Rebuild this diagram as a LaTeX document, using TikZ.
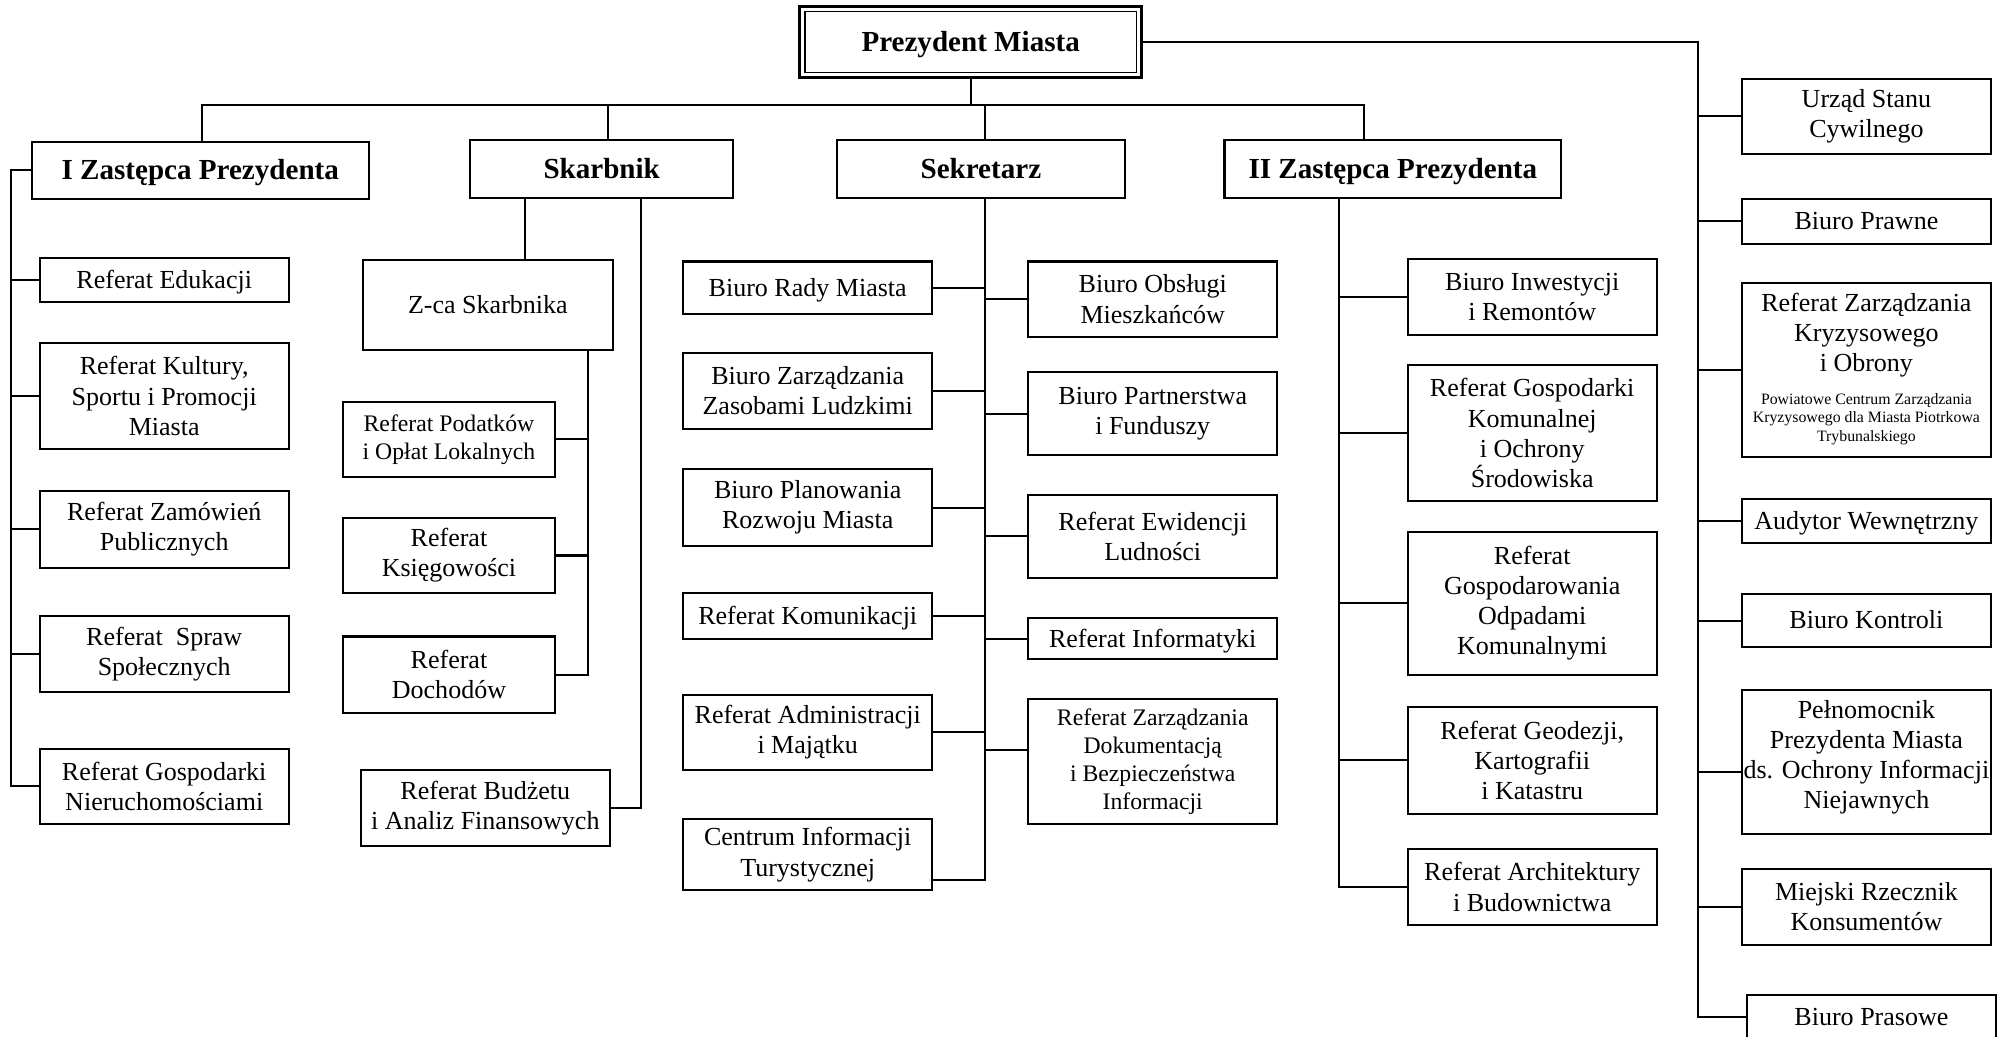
\documentclass[tikz,border=0pt]{standalone}
\usepackage{fontspec}
\setmainfont{Liberation Serif}
\usetikzlibrary{calc}

\newcommand\kryzfont{\fontsize{6.2}{7.2}\selectfont}

\tikzset{
  unit/.style={draw, line width=0.8pt, inner xsep=0.5pt, inner ysep=1pt, align=center,
    minimum width=97.75pt, font=\fontsize{10.2}{11.8}\selectfont},
  single/.style={text height=8.8pt, text depth=2.2pt},
  head/.style={unit, single, text height=9.6pt, text depth=2.4pt, font=\fontsize{11.4}{13}\selectfont\bfseries},
  fine/.style={font=\fontsize{9.3}{11}\selectfont},
  link/.style={line width=0.8pt},
}

\begin{document}
\begin{tikzpicture}[x=0.5pt,y=-0.5pt]
\useasboundingbox (0,0) rectangle (1568,813);

% kierownictwo
\node[head, line width=1.2pt, minimum width=134pt, minimum height=28pt] (pm) at (761,33) {Prezydent Miasta};
\draw[line width=0.6pt] ([shift={(2.6pt,-2.6pt)}]pm.north west) rectangle ([shift={(-2.6pt,2.6pt)}]pm.south east);
\node[head, minimum width=132pt, minimum height=22.5pt] (iz) at (157,133.5) {I Zastępca Prezydenta};
\node[head, minimum width=103.25pt, minimum height=22.5pt] (skarb) at (471.75,132.5) {Skarbnik};
\node[head, minimum width=113pt, minimum height=22.5pt] (sek) at (769,132.5) {Sekretarz};
\node[head, minimum width=132pt, minimum height=22.5pt] (iiz) at (1092,132.5) {II Zastępca Prezydenta};

% I Zastepca
\node[unit, single, minimum height=17.5pt] (edu) at (128.75,219.5) {Referat Edukacji};
\foreach \nm/\yy/\hh/\txt in {
    kult/310.5/41.5/{Referat Kultury,\\Sportu i Promocji\\Miasta},
    zam/415/30/{Referat Zamówień\\Publicznych},
    spr/512.75/29.75/{Referat\ \ Spraw\\Społecznych},
    gn/616.5/29.5/{Referat Gospodarki\\Nieruchomościami}}
  \node[unit, minimum height=\hh pt] (\nm) at (128.75,\yy) {\txt};

% Skarbnik
\node[unit, single, minimum height=35.5pt] (zca) at (382.5,239) {Z-ca Skarbnika};
\node[unit, fine, minimum width=83pt, minimum height=29.5pt] (pod) at (352,344.5) {Referat Podatków\\i Opłat Lokalnych};
\node[unit, minimum width=83pt, minimum height=29.5pt] (ksi) at (352,435.5) {Referat\\Księgowości};
\node[unit, minimum width=83pt, minimum height=30pt] (doch) at (352,529) {Referat\\Dochodów};
\node[unit, minimum height=29.75pt] (bud) at (380.5,633.25) {Referat Budżetu\\i Analiz Finansowych};

% Sekretarz
\node[unit, single, minimum height=20.5pt] (rady) at (633.25,225.5) {Biuro Rady Miasta};
\node[unit, single, minimum height=18pt] (kom) at (633.25,483) {Referat Komunikacji};
\foreach \nm/\yy/\hh/\txt in {
    zas/306.5/29.5/{Biuro Zarządzania\\Zasobami Ludzkimi},
    plan/398/30/{Biuro Planowania\\Rozwoju Miasta},
    adm/574.25/29.75/{Referat Administracji\\i Majątku},
    cit/670/28/{Centrum Informacji\\Turystycznej}}
  \node[unit, minimum height=\hh pt] (\nm) at (633.25,\yy) {\txt};
\foreach \nm/\yy/\hh/\txt in {
    obs/234.5/29.5/{Biuro Obsługi\\Mieszkańców},
    part/324.25/32.75/{Biuro Partnerstwa\\i Funduszy},
    ewi/420.5/32.5/{Referat Ewidencji\\Ludności}}
  \node[unit, minimum height=\hh pt] (\nm) at (903.75,\yy) {\txt};
\node[unit, single, minimum height=16.25pt] (inf) at (903.75,500.75) {Referat Informatyki};
\node[unit, fine, minimum height=49pt] (dok) at (903.75,597) {Referat Zarządzania\\Dokumentacją\\i Bezpieczeństwa\\Informacji};

% II Zastepca
\foreach \nm/\yy/\hh/\txt in {
    inw/232.75/29.75/{Biuro Inwestycji\\i Remontów},
    gk/339.5/53.5/{Referat Gospodarki\\Komunalnej\\i Ochrony\\Środowiska},
    odp/473/56/{Referat\\Gospodarowania\\Odpadami\\Komunalnymi},
    geo/596.15/41.65/{Referat Geodezji,\\Kartografii\\i Katastru},
    arch/695.35/29.65/{Referat Architektury\\i Budownictwa}}
  \node[unit, minimum height=\hh pt] (\nm) at (1201.25,\yy) {\txt};

% podlegle Prezydentowi
\foreach \nm/\yy/\hh/\txt in {
    praw/173.55/17.75/{Biuro Prawne},
    aud/408.5/17.5/{Audytor Wewnętrzny},
    kon/486.5/20.5/{Biuro Kontroli}}
  \node[unit, single, minimum height=\hh pt] (\nm) at (1463.25,\yy) {\txt};
\node[unit, minimum height=29.55pt] (usc) at (1463.25,91.25) {Urząd Stanu\\Cywilnego};
\node[unit, minimum height=29.85pt] (rzecz) at (1463.25,710.85) {Miejski Rzecznik\\Konsumentów};
\node[unit, minimum height=56.5pt] (peln) at (1463.25,597.5) {Pełnomocnik\\Prezydenta Miasta\\ds. Ochrony Informacji\\Niejawnych\rule[-6pt]{0pt}{1pt}};
\node[unit, minimum height=68pt] (kryz) at (1463.25,290) {Referat Zarządzania\\Kryzysowego\\i Obrony\\[1pt]
  {\kryzfont\begin{tabular}[t]{@{}c@{}}Powiatowe Centrum Zarządzania\\Kryzysowego dla Miasta Piotrkowa\\Trybunalskiego\end{tabular}}};
\node[unit, single, minimum width=97.8pt, minimum height=17.5pt] (pras) at (1467.2,797.5) {Biuro Prasowe};

% linie
\coordinate (busW) at (158,82);
\coordinate (busE) at (1069,82);
\coordinate (dSk) at (476.5,82);
\coordinate (dSe) at (772.5,82);
\draw[link] (pm.south) -- (pm.south |- busW);
\draw[link] (busW |- iz.north) -- (busW) -- (busE) -- (busE |- iiz.north);
\draw[link] (dSk) -- (dSk |- skarb.north);
\draw[link] (dSe) -- (dSe |- sek.north);

\coordinate (spA) at (8.5,0);
\draw[link] (iz.west) -| (spA |- gn.west) -- (gn.west);
\foreach \b in {edu,kult,zam,spr}
  \draw[link] (\b.west) -- (\b.west -| spA);

\coordinate (spB) at (411.5,0);
\coordinate (spC) at (461,0);
\coordinate (spD) at (502.5,0);
\draw[link] (spB |- skarb.south) -- (spB |- zca.north);
\draw[link] (spC |- zca.south) |- (doch.east);
\foreach \b in {pod,ksi}
  \draw[link] (\b.east) -- (\b.east -| spC);
\draw[link] (spD |- skarb.south) |- (bud.east);

\coordinate (spE) at (772.5,690);
\draw[link] (spE |- sek.south) -- (spE) -- (spE -| cit.east);
\foreach \b in {rady,zas,plan,kom,adm}
  \draw[link] (\b.east) -- (\b.east -| spE);
\foreach \b in {obs,part,ewi,inf}
  \draw[link] (\b.west) -- (\b.west -| spE);
\draw[link] ([yshift=4.5pt]dok.west) -- ([yshift=4.5pt]dok.west -| spE);

\coordinate (spF) at (1050,0);
\draw[link] (spF |- iiz.south) |- (arch.west);
\foreach \b in {inw,gk,odp,geo}
  \draw[link] (\b.west) -- (\b.west -| spF);

\coordinate (spG) at (1331,0);
\draw[link] (pm.east) -| (spG |- pras.west) -- (pras.west);
\foreach \b in {usc,praw,kryz,aud,kon,rzecz}
  \draw[link] (\b.west) -- (\b.west -| spG);
\draw[link] ([yshift=-4pt]peln.west) -- ([yshift=-4pt]peln.west -| spG);
\end{tikzpicture}
\end{document}
